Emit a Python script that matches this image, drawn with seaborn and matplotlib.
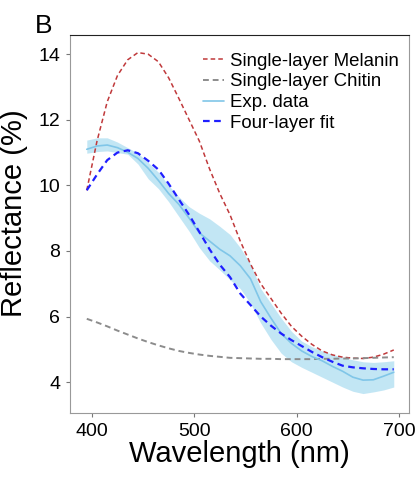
import numpy as np
import pandas as pd
import seaborn as sns
import matplotlib
matplotlib.use('Agg')
import matplotlib.pyplot as plt

# values (10 nm steps)
wavelength = list(range(395, 700, 10))

melanin = [9.85, 11.35, 12.55, 13.35, 13.83, 14.05, 14.0, 13.77, 13.28, 12.65,
           12.0, 11.35, 10.5, 9.75, 9.1, 8.3, 7.6, 7.0, 6.55, 6.1,
           5.7, 5.4, 5.15, 4.95, 4.83, 4.76, 4.73, 4.72, 4.76, 4.85, 4.98]

chitin = [5.93, 5.82, 5.7, 5.57, 5.45, 5.33, 5.22, 5.12, 5.03, 4.95,
          4.89, 4.84, 4.8, 4.77, 4.74, 4.73, 4.72, 4.71, 4.71, 4.70,
          4.70, 4.70, 4.70, 4.71, 4.71, 4.72, 4.72, 4.73, 4.74, 4.75, 4.76]

exp_mean = [11.1, 11.2, 11.23, 11.15, 11.01, 10.82, 10.52, 10.15, 9.75, 9.42,
            9.0, 8.55, 8.3, 8.05, 7.85, 7.55, 7.15, 6.45, 5.95, 5.48,
            5.18, 4.95, 4.78, 4.65, 4.48, 4.33, 4.15, 4.06, 4.07, 4.18, 4.3]

exp_low = [10.98, 11.03, 11.05, 11.0, 10.95, 10.65, 10.2, 9.9, 9.5, 9.05,
           8.6, 8.1, 7.7, 7.42, 7.12, 6.85, 6.4, 5.8, 5.3, 4.88,
           4.62, 4.45, 4.3, 4.15, 4.0, 3.85, 3.72, 3.65, 3.7, 3.76, 3.85]

exp_high = [11.38, 11.45, 11.45, 11.32, 11.15, 10.98, 10.7, 10.4, 10.0, 9.65,
            9.35, 9.15, 8.98, 8.75, 8.5, 8.1, 7.6, 6.85, 6.4, 5.95,
            5.55, 5.25, 5.08, 4.95, 4.85, 4.75, 4.68, 4.62, 4.6, 4.62, 4.65]

fit4 = [9.85, 10.33, 10.77, 11.0, 11.07, 10.98, 10.75, 10.48, 10.05, 9.57,
        9.1, 8.58, 8.05, 7.58, 7.2, 6.7, 6.35, 6.0, 5.72, 5.48,
        5.28, 5.1, 4.92, 4.76, 4.62, 4.5, 4.45, 4.42, 4.4, 4.39, 4.39]

df = pd.DataFrame({'wl': wavelength, 'melanin': melanin, 'chitin': chitin,
                   'exp': exp_mean, 'low': exp_low, 'high': exp_high, 'fit': fit4})

sns.set_style('white')
plt.rcParams['font.family'] = ['Liberation Sans', 'DejaVu Sans']
plt.rcParams['text.color'] = 'black'
plt.rcParams['axes.labelcolor'] = 'black'
plt.rcParams['xtick.labelcolor'] = 'black'
plt.rcParams['ytick.labelcolor'] = 'black'

fig = plt.figure(figsize=(4.16, 4.82), dpi=100)
ax = fig.add_axes([0.168, 0.143, 0.815, 0.784])

ax.fill_between(df['wl'], df['low'], df['high'], color='#87CEEB', alpha=0.5, linewidth=0)
sns.lineplot(data=df, x='wl', y='melanin', ax=ax, color='#c0393b', lw=1.1,
             label='Single-layer Melanin').lines[-1].set_dashes([3, 2])
sns.lineplot(data=df, x='wl', y='chitin', ax=ax, color='#8c8c8c', lw=1.4,
             label='Single-layer Chitin').lines[-1].set_dashes([3, 2])
sns.lineplot(data=df, x='wl', y='exp', ax=ax, color='#80c6e8', lw=1.2, label='Exp. data')
sns.lineplot(data=df, x='wl', y='fit', ax=ax, color='#1f1fff', lw=1.6,
             label='Four-layer fit').lines[-1].set_dashes([3, 2])

ax.set_xlim(378.5, 709.8)
ax.set_ylim(3.055, 14.58)
ax.set_xticks([400, 500, 600, 700])
ax.set_yticks([4, 6, 8, 10, 12, 14])
ax.tick_params(axis='both', labelsize=14, length=3, width=0.8, color='#777777',
               bottom=True, left=True, pad=4)
ax.set_xlabel('Wavelength (nm)', fontsize=21, labelpad=0)
ax.set_ylabel('Reflectance (%)', fontsize=21, labelpad=0)
ax.yaxis.set_label_coords(-0.125, 0.53)

for side in ['left', 'bottom', 'right']:
    ax.spines[side].set_color('#999999')
    ax.spines[side].set_linewidth(0.8)
ax.spines['top'].set_color('#222222')
ax.spines['top'].set_linewidth(0.8)

leg = ax.legend(loc='upper right', bbox_to_anchor=(1.0, 0.981), frameon=False,
                fontsize=13.4, handlelength=1.15, handletextpad=0.3,
                labelspacing=0.2, borderaxespad=0.15)

fig.text(0.085, 0.932, 'B', fontsize=19)

fig.savefig('out.png', dpi=100)
